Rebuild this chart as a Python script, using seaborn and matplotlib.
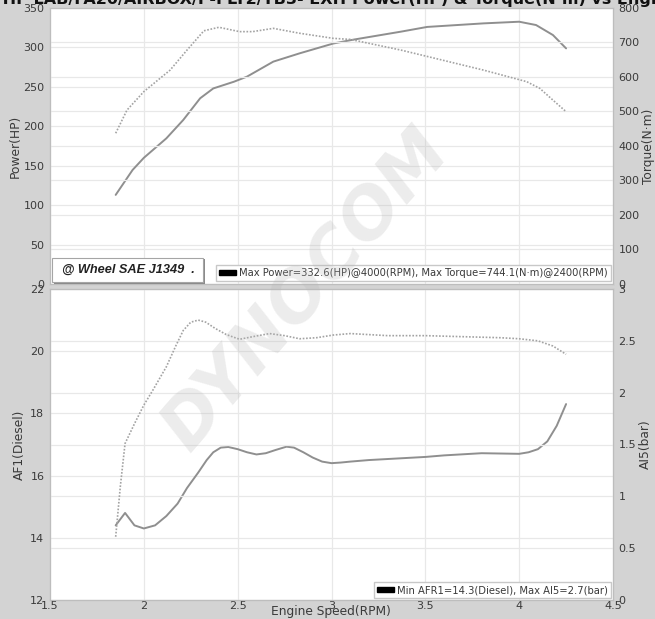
import matplotlib
matplotlib.use("Agg")
import matplotlib.pyplot as plt
from matplotlib.patches import Patch, Rectangle
import seaborn as sns
import pandas as pd

# ---- dyno run data (engine speed in thousands of RPM) ----
power_rpm = [1.85, 1.94, 2.00, 2.12, 2.21, 2.30, 2.37, 2.48, 2.55, 2.69, 2.83,
             3.01, 3.12, 3.37, 3.51, 3.81, 4.00, 4.09, 4.18, 4.25]
power_hp = [113, 144.6, 160, 184.7, 208, 235.5, 248, 256.5, 263, 282, 292.5,
            305, 310, 320, 326, 330.5, 332.6, 328.4, 315.7, 298.8]

torque_rpm = [1.85, 1.91, 2.00, 2.14, 2.23, 2.32, 2.40, 2.51, 2.58, 2.69, 2.83,
              3.01, 3.10, 3.37, 3.51, 3.81, 4.04, 4.11, 4.18, 4.25]
torque_nm = [437, 504, 557.6, 620, 678, 734, 744.1, 731.5, 731.5, 741, 726.8,
             712, 709, 678, 659.6, 620, 586.5, 567, 533, 499.5]

afr_rpm = [1.85, 1.90, 1.95, 2.00, 2.06, 2.12, 2.18, 2.23, 2.29, 2.335, 2.37,
           2.41, 2.45, 2.50, 2.55, 2.60, 2.65, 2.70, 2.76, 2.80, 2.85, 2.90,
           2.95, 3.00, 3.05, 3.10, 3.20, 3.50, 3.60, 3.80, 4.00, 4.05, 4.10,
           4.15, 4.20, 4.25]
afr = [14.4, 14.8, 14.4, 14.3, 14.4, 14.7, 15.1, 15.6, 16.1, 16.5, 16.75,
       16.9, 16.92, 16.85, 16.75, 16.68, 16.72, 16.82, 16.93, 16.9, 16.75, 16.58,
       16.45, 16.4, 16.42, 16.45, 16.5, 16.6, 16.65, 16.72, 16.7, 16.75, 16.85,
       17.1, 17.6, 18.3]

ai5_rpm = [1.85, 1.875, 1.90, 1.95, 2.00, 2.05, 2.12, 2.17, 2.21, 2.25, 2.29,
           2.33, 2.38, 2.44, 2.51, 2.58, 2.67, 2.75, 2.83, 2.92, 3.01, 3.10,
           3.30, 3.50, 3.70, 3.90, 4.00, 4.10, 4.18, 4.25]
ai5_bar = [0.61, 1.1, 1.51, 1.7, 1.88, 2.03, 2.25, 2.45, 2.6, 2.68, 2.7,
           2.68, 2.62, 2.56, 2.515, 2.54, 2.57, 2.55, 2.52, 2.53, 2.556, 2.57,
           2.55, 2.55, 2.54, 2.53, 2.52, 2.5, 2.45, 2.37]

x_ticks = [1.5, 2, 2.5, 3, 3.5, 4, 4.5]
x_ticklabels = ["1.5", "2", "2.5", "3", "3.5", "4", "4.5"]
power_ticks = [0, 50, 100, 150, 200, 250, 300, 350]
torque_ticks = [0, 100, 200, 300, 400, 500, 600, 700, 800]
afr_ticks = [12, 14, 16, 18, 20, 22]
ai5_ticks = [0, 0.5, 1, 1.5, 2, 2.5, 3]
ai5_ticklabels = ["0", "0.5", "1", "1.5", "2", "2.5", "3"]

title_left = "DYNO/HP LAB/FA20/AIRBOX/P-FLT2/TB3- EXH"
title_right = "Power(HP) & Torque(N\u00b7m) vs Engine Speed(RPM)"
power_stats = "Max Power=332.6(HP)@4000(RPM), Max Torque=744.1(N\u00b7m)@2400(RPM)"
afr_stats = "Min AFR1=14.3(Diesel), Max AI5=2.7(bar)"
standard_note = "@ Wheel SAE J1349  ."

# ---- style ----
sns.set_style("white")
plt.rcParams["font.family"] = ["DejaVu Sans"]

BG = "#d3d3d3"
GRID = "#e8e8e8"
SPINE = "#bdbdbd"
TXT = "#3a3a3a"
SOLID = "#8f8f8f"
DOTTED = "#a3a3a3"

W, H = 655, 619
fig = plt.figure(figsize=(W / 100, H / 100), dpi=100, facecolor=BG)

left = 50 / W
width = (613 - 50) / W
ax_top = fig.add_axes([left, 1 - 284 / H, width, (284 - 8) / H])
ax_bot = fig.add_axes([left, 1 - 600 / H, width, (600 - 289) / H])
ax_tq = ax_top.twinx()
ax_ai = ax_bot.twinx()

df_p = pd.DataFrame({"rpm": power_rpm, "val": power_hp})
df_t = pd.DataFrame({"rpm": torque_rpm, "val": torque_nm})
df_a = pd.DataFrame({"rpm": afr_rpm, "val": afr})
df_i = pd.DataFrame({"rpm": ai5_rpm, "val": ai5_bar})

sns.lineplot(data=df_p, x="rpm", y="val", ax=ax_top, color=SOLID, lw=1.4,
             sort=False, estimator=None, zorder=5)
sns.lineplot(data=df_t, x="rpm", y="val", ax=ax_tq, color=DOTTED, lw=1.2,
             linestyle=(0, (1, 1)), sort=False, estimator=None, zorder=5)
sns.lineplot(data=df_a, x="rpm", y="val", ax=ax_bot, color=SOLID, lw=1.4,
             sort=False, estimator=None, zorder=5)
sns.lineplot(data=df_i, x="rpm", y="val", ax=ax_ai, color=DOTTED, lw=1.2,
             linestyle=(0, (1, 1)), sort=False, estimator=None, zorder=5)

for a in (ax_top, ax_tq, ax_bot, ax_ai):
    a.set_xlim(1.5, 4.5)
    a.set_xlabel("")
    a.set_ylabel("")
    for s in a.spines.values():
        s.set_color(SPINE)
        s.set_linewidth(0.8)
    a.tick_params(length=0, labelsize=8, colors=TXT, pad=4)

ax_top.set_ylim(0, 350)
ax_tq.set_ylim(0, 800)
ax_bot.set_ylim(12, 22)
ax_ai.set_ylim(0, 3)

ax_top.set_yticks(power_ticks)
ax_tq.set_yticks(torque_ticks)
ax_bot.set_yticks(afr_ticks)
ax_ai.set_yticks(ai5_ticks)
ax_ai.set_yticklabels(ai5_ticklabels)

ax_top.set_xticks(x_ticks)
ax_top.tick_params(axis="x", labelbottom=False)
ax_bot.set_xticks(x_ticks)
ax_bot.set_xticklabels(x_ticklabels)
ax_bot.tick_params(axis="x", pad=1)

for a in (ax_top, ax_bot):
    a.grid(True, color=GRID, lw=0.9)
    a.set_axisbelow(True)
for a in (ax_tq, ax_ai):
    a.grid(True, axis="y", color=GRID, lw=0.9)
    a.set_axisbelow(True)

ax_top.set_ylabel("Power(HP)", fontsize=8.8, color=TXT, labelpad=1)
ax_tq.set_ylabel("Torque(N\u00b7m)", fontsize=8.8, color=TXT, labelpad=1.5)
ax_bot.set_ylabel("AF1(Diesel)", fontsize=8.8, color=TXT, labelpad=3)
ax_ai.set_ylabel("AI5(bar)", fontsize=8.8, color=TXT, labelpad=2)
fig.text(331 / W, 1 - 612 / H, "Engine Speed(RPM)", ha="center", va="center",
         fontsize=8.8, color=TXT)

# ---- stat boxes ----
leg_kw = dict(frameon=True, fancybox=False, framealpha=1, edgecolor="#c8c8c8",
              fontsize=7.2, handlelength=1.7, handleheight=0.45,
              handletextpad=0.3, borderpad=0.3, borderaxespad=0)
lg = ax_tq.legend(handles=[Patch(facecolor="black", edgecolor="black")],
                  labels=[power_stats], loc="lower right",
                  bbox_to_anchor=(0.996, 0.011), **leg_kw)
for t in lg.get_texts():
    t.set_color(TXT)
lg2 = ax_ai.legend(handles=[Patch(facecolor="black", edgecolor="black")],
                   labels=[afr_stats], loc="lower right",
                   bbox_to_anchor=(0.996, 0.006), **leg_kw)
for t in lg2.get_texts():
    t.set_color(TXT)

# test-standard note box in the lower-left corner of the power panel
ax_tq.add_patch(Rectangle((0.0075, 0.001), 0.267, 0.09, transform=ax_tq.transAxes,
                          facecolor="#8a8a8a", edgecolor="none", zorder=9,
                          clip_on=False))
ax_tq.add_patch(Rectangle((0.004, 0.006), 0.267, 0.09, transform=ax_tq.transAxes,
                          facecolor="white", edgecolor="#a5a5a5", lw=0.8,
                          zorder=10, clip_on=False))
ax_tq.text(0.022, 0.052, standard_note, transform=ax_tq.transAxes,
           ha="left", va="center", fontsize=9.2, fontweight="bold",
           style="italic", family=["Liberation Sans", "DejaVu Sans"],
           color="#222222", zorder=11)

# ---- title (runs past the top edge of the canvas) ----
fig.text(346 / W, 1 - 4 / H, title_left, ha="right", va="baseline",
         fontsize=11.5, fontweight="bold", color="#111111")
fig.text(352 / W, 1 - 4 / H, title_right, ha="left", va="baseline",
         fontsize=11.5, fontweight="bold", color="#111111")

# ---- watermark ----
fig.text(0.468, 0.531, "DYNOCOM", rotation=49, fontsize=50,
         fontweight="heavy", style="italic", color="#b5b5b5", alpha=0.25,
         ha="center", va="center", zorder=20)

fig.savefig("out.png", dpi=100, facecolor=BG)
